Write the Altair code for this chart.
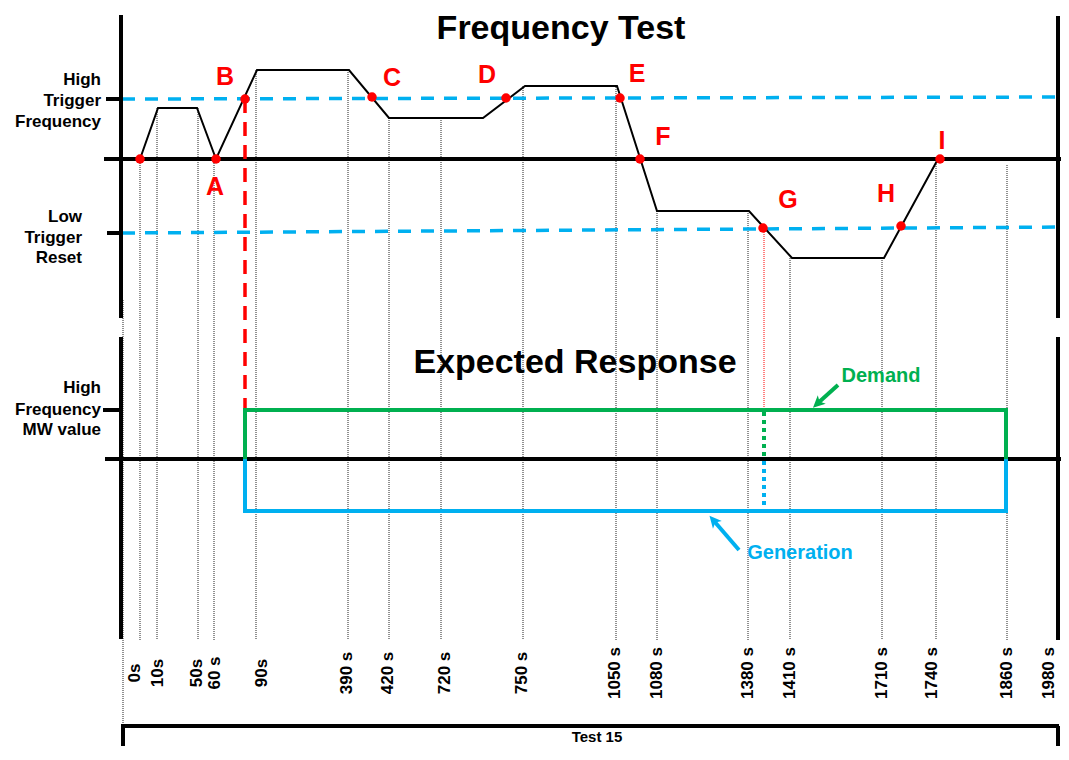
import altair as alt
import pandas as pd

# ---------------- schematic time axis ----------------
tick_labels = ["0s", "10s", "50s", "60 s", "90s", "390 s", "420 s", "720 s", "750 s",
               "1050 s", "1080 s", "1380 s", "1410 s", "1710 s", "1740 s", "1860 s", "1980 s"]
tick_x = [135, 158, 197, 215, 262, 347, 388, 445, 522, 615, 657, 748, 790, 882, 932, 1007, 1049]
grid_x = [140, 157, 198, 214, 256, 348, 389, 441, 523, 616, 657, 748, 790, 882, 936, 1007]
grid_top = [159, 108, 108, 159, 70, 70, 118, 118, 86, 87, 211, 211, 258, 258, 160, 165]
grid_bottom = 640
tick_label_y = 673

# ---------------- frequency profile (schematic) ----------------
freq_x = [140, 158, 197, 216, 257, 349, 389, 483, 525, 617, 657, 749, 792, 884, 938]
freq_y = [159, 108, 108, 159, 70, 70, 118, 118, 86, 86, 211, 211, 258, 258, 159]

nominal_y = 159
high_trigger_y = [99, 97]      # left end, right end
low_reset_y = [233, 227]
trigger_x = [122, 1069]

# ---------------- events ----------------
dot_x = [140, 216, 245, 372, 506, 620, 640, 763, 901, 940]
dot_y = [159, 159, 99, 97, 98, 98, 159, 228, 226, 159]
event_names = ["A", "B", "C", "D", "E", "F", "G", "H", "I"]
event_lx = [215, 225, 392, 487, 637, 663, 788, 886, 942]
event_ly = [187, 77, 78, 75, 74, 137, 200, 194, 141]

# ---------------- expected response ----------------
mw_high_y = 410
mw_zero_y = 459
mw_gen_y = 511
resp_start_x = 245   # trip at B
resp_end_x = 1006    # 1860 s
resp_switch_x = 764  # reset at G

# ---------------- frame ----------------
frame_left, frame_right = 121, 1058
panel1 = [15, 318]
panel2 = [337, 640]
box_top = 726
box_bottom = 748
box_label_y = 737

X = alt.X("x:Q", scale=alt.Scale(domain=[8, 1061], nice=False, zero=False), axis=None)
Y = alt.Y("y:Q", scale=alt.Scale(domain=[8, 746], nice=False, zero=False, reverse=True), axis=None)
X2 = alt.X2("x2:Q")
Y2 = alt.Y2("y2:Q")

FONT = "Liberation Sans"
BLUE = "#00B0F0"
GREEN = "#00B050"
RED = "#FF0000"


def seg(rows):
    return pd.DataFrame(rows, columns=["x", "y", "x2", "y2"])


def rules(rows, **kw):
    return alt.Chart(seg(rows)).mark_rule(**kw).encode(x=X, y=Y, x2=X2, y2=Y2)


# thick black frame/axes
axis_rows = [
    (frame_left, panel1[0], frame_left, panel1[1]),
    (frame_left, panel2[0], frame_left, panel2[1] - 1),
    (frame_right, panel1[0] + 1, frame_right, panel1[1]),
    (frame_right, panel2[0], frame_right, panel2[1]),
    (104, nominal_y, 1069, nominal_y),
    (105, mw_zero_y, 1069, mw_zero_y),
    (106, high_trigger_y[0], frame_left, high_trigger_y[0]),
    (107, low_reset_y[0], frame_left, low_reset_y[0]),
    (103, mw_high_y, frame_left, mw_high_y),
    (frame_left, box_top, frame_right + 1, box_top),
    (frame_left + 2, box_top, frame_left + 2, box_bottom),
    (frame_right, box_top, frame_right, box_bottom),
]
axis_layer = rules(axis_rows, color="black", strokeWidth=4)

grid_rows = [(gx, gt, gx, grid_bottom) for gx, gt in zip(grid_x, grid_top)]
grid_rows.append((frame_left + 2, 300, frame_left + 2, box_top))
grid_layer = rules(grid_rows, color="#222222", strokeWidth=1, strokeDash=[1, 1])

trigger_rows = [
    (trigger_x[0], high_trigger_y[0], trigger_x[1], high_trigger_y[1]),
    (trigger_x[0], low_reset_y[0], trigger_x[1], low_reset_y[1]),
]
trigger_layer = rules(trigger_rows, color=BLUE, strokeWidth=3.5, strokeDash=[13, 10])

trip_layer = rules([(resp_start_x, high_trigger_y[0], resp_start_x, mw_high_y)],
                   color=RED, strokeWidth=3.5, strokeDash=[14, 9])
reset_layer = rules([(resp_switch_x, 228, resp_switch_x, mw_high_y)],
                    color=RED, strokeWidth=1, strokeDash=[1, 1])

freq_df = pd.DataFrame({"x": freq_x, "y": freq_y, "o": range(len(freq_x))})
freq_layer = alt.Chart(freq_df).mark_line(color="black", strokeWidth=2).encode(
    x=X, y=Y, order="o:Q")

demand_df = pd.DataFrame({
    "x": [resp_start_x, resp_start_x, resp_end_x, resp_end_x],
    "y": [mw_zero_y, mw_high_y, mw_high_y, mw_zero_y],
    "o": [0, 1, 2, 3]})
gen_df = pd.DataFrame({
    "x": [resp_start_x, resp_start_x, resp_end_x, resp_end_x],
    "y": [mw_zero_y, mw_gen_y, mw_gen_y, mw_zero_y],
    "o": [0, 1, 2, 3]})
demand_layer = alt.Chart(demand_df).mark_line(color=GREEN, strokeWidth=4).encode(
    x=X, y=Y, order="o:Q")
gen_layer = alt.Chart(gen_df).mark_line(color=BLUE, strokeWidth=4).encode(
    x=X, y=Y, order="o:Q")
demand_dot = rules([(resp_switch_x, mw_high_y + 2, resp_switch_x, mw_zero_y)],
                   color=GREEN, strokeWidth=4, strokeDash=[4, 4])
gen_dot = rules([(resp_switch_x, mw_zero_y + 2, resp_switch_x, mw_gen_y)],
                color=BLUE, strokeWidth=4, strokeDash=[4, 4])

dots_layer = alt.Chart(pd.DataFrame({"x": dot_x, "y": dot_y})).mark_point(
    filled=True, color=RED, size=90, opacity=1).encode(x=X, y=Y)

letters_layer = alt.Chart(pd.DataFrame({"x": event_lx, "y": event_ly, "t": event_names})).mark_text(
    font=FONT, fontWeight="bold", fontSize=25, color=RED, align="center", baseline="middle"
).encode(x=X, y=Y, text="t:N")

ticks_layer = alt.Chart(pd.DataFrame({"x": tick_x, "y": [tick_label_y] * len(tick_x),
                                      "t": tick_labels})).mark_text(
    font=FONT, fontWeight="bold", fontSize=17, color="black", angle=270,
    align="center", baseline="middle"
).encode(x=X, y=Y, text="t:N")

# titles
title_df = pd.DataFrame({"x": [561, 575], "y": [29, 363],
                         "t": ["Frequency Test", "Expected Response"]})
title_layer = alt.Chart(title_df).mark_text(
    font=FONT, fontWeight="bold", fontSize=34, color="black", align="center", baseline="middle"
).encode(x=X, y=Y, text="t:N")

# left level labels
left_lines = ["High", "Trigger", "Frequency", "Low", "Trigger", "Reset",
              "High", "Frequency", "MW value"]
left_x = [101, 101, 101, 82, 82, 82, 101, 101, 101]
left_y = [80, 101, 122, 217, 238, 258, 388, 410, 430]
left_layer = alt.Chart(pd.DataFrame({"x": left_x, "y": left_y, "t": left_lines})).mark_text(
    font=FONT, fontWeight="bold", fontSize=17, color="black", align="right", baseline="middle"
).encode(x=X, y=Y, text="t:N")

test_layer = alt.Chart(pd.DataFrame({"x": [597], "y": [box_label_y], "t": ["Test 15"]})).mark_text(
    font=FONT, fontWeight="bold", fontSize=15, color="black", align="center", baseline="middle"
).encode(x=X, y=Y, text="t:N")

# callouts
callout_names = ["Demand", "Generation"]
callout_colors = [GREEN, BLUE]
callout_x = [881, 800]
callout_y = [376, 553]
shaft_rows = [(838, 385, 818, 403), (739, 550, 714, 521)]
head_x = [818, 714]
head_y = [403, 521]
head_angle = [227, 319]

callout_layers = []
ARROW = "M0,-1 L0.85,0.75 L0,0.3 L-0.85,0.75 Z"
for i in range(2):
    c = callout_colors[i]
    callout_layers.append(
        alt.Chart(pd.DataFrame({"x": [callout_x[i]], "y": [callout_y[i]], "t": [callout_names[i]]}))
        .mark_text(font=FONT, fontWeight="bold", fontSize=20, color=c, align="center", baseline="middle")
        .encode(x=X, y=Y, text="t:N"))
    callout_layers.append(rules([shaft_rows[i]], color=c, strokeWidth=4))
    callout_layers.append(
        alt.Chart(pd.DataFrame({"x": [head_x[i]], "y": [head_y[i]]}))
        .mark_point(shape=ARROW, filled=True, color=c, size=190, opacity=1, angle=head_angle[i])
        .encode(x=X, y=Y))

chart = alt.layer(
    grid_layer, reset_layer, trigger_layer, axis_layer, trip_layer,
    demand_layer, gen_layer, demand_dot, gen_dot, freq_layer, dots_layer,
    letters_layer, ticks_layer, title_layer, left_layer, test_layer, *callout_layers
).properties(
    width=1053, height=738, autosize="none", padding=0, background="white"
).configure_view(stroke=None)

chart.save("out.html", embed_options={"renderer": "svg", "actions": False})
